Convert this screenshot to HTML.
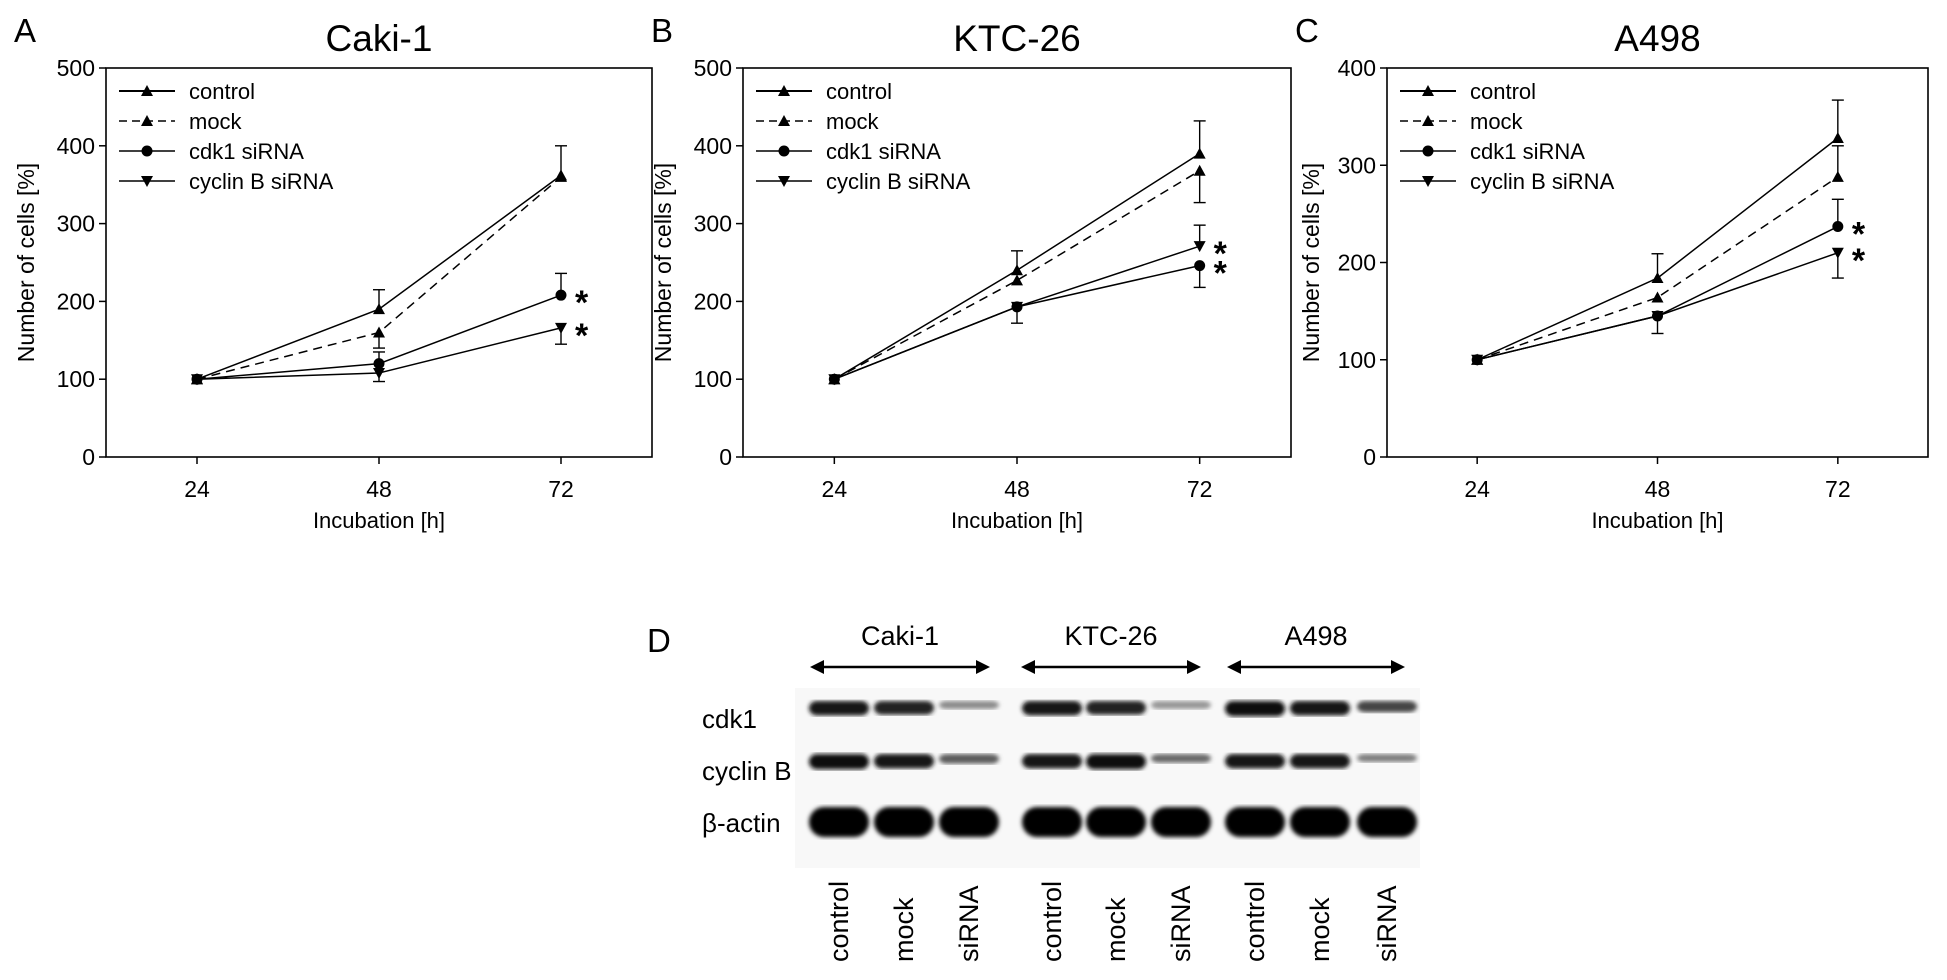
<!DOCTYPE html>
<html><head><meta charset="utf-8"><style>
html,body{margin:0;padding:0;background:#fff}
svg{display:block;font-family:"Liberation Sans",Arial,sans-serif}
</style></head><body>
<svg id="fig" width="1947" height="980" viewBox="0 0 1947 980">
<defs><filter id="blur"><feGaussianBlur stdDeviation="2"/></filter></defs>
</svg>
<script>
const NS='http://www.w3.org/2000/svg';
const svg=document.getElementById('fig');
// ---- data ----
const hours=[24,48,72];
const seriesNames=['control','mock','cdk1 siRNA','cyclin B siRNA'];
const panelTitles=['Caki-1','KTC-26','A498'];
const panelLetters=['A','B','C'];
const yMaxes=[500,500,400];
const cakiControl=[100,190,362], cakiMock=[100,160,360], cakiCdk1=[100,120,208], cakiCyclin=[100,108,166];
const ktcControl=[100,240,390], ktcMock=[100,227,368], ktcCdk1=[100,193,246], ktcCyclin=[100,193,271];
const a498Control=[100,184,328], a498Mock=[100,164,288], a498Cdk1=[100,145,237], a498Cyclin=[100,145,210];
// error bar ends (null = none)
const cakiErr=[[null,215,400],[null,140,null],[null,135,236],[null,97,145]];
const ktcErr=[[null,265,432],[null,null,327],[null,172,218],[null,null,298]];
const a498Err=[[null,209,367],[null,null,320],[null,127,265],[null,null,184]];
const blotGroups=['Caki-1','KTC-26','A498'];
const blotRows=['cdk1','cyclin B','β-actin'];
const laneLabels=['control','mock','siRNA'];
const cdk1Bands=[0.9,0.85,0.4,0.9,0.85,0.35,0.95,0.9,0.7];
const cyclinBands=[0.95,0.9,0.6,0.9,0.95,0.55,0.9,0.9,0.45];
const actinBands=[1,1,1,1,1,1,1,1,1];

function el(tag,attrs,parent){const e=document.createElementNS(NS,tag);for(const k in attrs)e.setAttribute(k,attrs[k]);(parent||svg).appendChild(e);return e;}
function txt(s,attrs,parent){const t=el('text',attrs,parent);t.textContent=s;return t;}

const panels=[
 {x0:106,x1:652,data:[cakiControl,cakiMock,cakiCdk1,cakiCyclin],err:cakiErr,name:'caki'},
 {x0:743,x1:1291,data:[ktcControl,ktcMock,ktcCdk1,ktcCyclin],err:ktcErr,name:'ktc26'},
 {x0:1387,x1:1928,data:[a498Control,a498Mock,a498Cdk1,a498Cyclin],err:a498Err,name:'a498'}];
const yTop=68,yBot=457;

panels.forEach((p,pi)=>{
 const g=el('g',{});
 
 
 const xs=h=>p.x0+(h-12)/72*(p.x1-p.x0);
 const ys=v=>yBot-v/yMaxes[pi]*(yBot-yTop);
 const letter=txt(panelLetters[pi],{x:p.x0-92,y:42,'font-size':33},g);
 
 const tt=txt(panelTitles[pi],{x:(p.x0+p.x1)/2,y:51,'font-size':37,'text-anchor':'middle'},g);
 
 const fr=el('rect',{x:p.x0,y:yTop,width:p.x1-p.x0,height:yBot-yTop,fill:'none',stroke:'#000','stroke-width':1.6},g);
 
 for(let v=0;v<=yMaxes[pi];v+=100){
  el('line',{x1:p.x0-7,x2:p.x0,y1:ys(v),y2:ys(v),stroke:'#000','stroke-width':1.5},g);
  const t=txt(String(v),{x:p.x0-11,y:ys(v)+8,'font-size':23,'text-anchor':'end'},g);
  
 }
 hours.forEach(h=>{
  el('line',{x1:xs(h),x2:xs(h),y1:yBot,y2:yBot+7,stroke:'#000','stroke-width':1.5},g);
  const t=txt(String(h),{x:xs(h),y:yBot+40,'font-size':23,'text-anchor':'middle'},g);
  
 });
 const xt=txt('Incubation [h]',{x:(p.x0+p.x1)/2,y:yBot+71,'font-size':22,'text-anchor':'middle'},g);
 
 const cy=(yTop+yBot)/2, cx=p.x0-(pi==2?68:72);
 const yt=txt('Number of cells  [%]',{x:cx,y:cy,'font-size':23,'text-anchor':'middle',transform:`rotate(-90 ${cx} ${cy})`},g);
 
 function marker(type,x,y,parent){
  if(type===2) return el('circle',{cx:x,cy:y,r:5.5,fill:'#000'},parent);
  if(type===3) return el('path',{d:`M${x-6},${y-5}L${x+6},${y-5}L${x},${y+6}Z`,fill:'#000'},parent);
  return el('path',{d:`M${x-6},${y+5}L${x+6},${y+5}L${x},${y-6}Z`,fill:'#000'},parent);
 }
 p.data.forEach((vals,si)=>{
  const sg=el('g',{},g);
  
  
  const d=vals.map((v,i)=>(i?'L':'M')+xs(hours[i])+','+ys(v)).join('');
  el('path',{d,fill:'none',stroke:'#000','stroke-width':1.5,'stroke-dasharray':si===1?'9,6':'none'},sg);
  p.err[si].forEach((e,i)=>{
   if(e==null)return;
   const x=xs(hours[i]);
   el('line',{x1:x,x2:x,y1:ys(vals[i]),y2:ys(e),stroke:'#000','stroke-width':1.4},sg);
   el('line',{x1:x-6,x2:x+6,y1:ys(e),y2:ys(e),stroke:'#000','stroke-width':1.4},sg);
  });
  vals.forEach((v,i)=>{
   const m=marker(si,xs(hours[i]),ys(v),sg);
   
  });
  if(si>=2){
   const a=txt('*',{x:xs(72)+14,y:ys(vals[2])+19,'font-size':34,'font-weight':'bold'},sg);
   
  }
 });
 const lg=el('g',{},g);
 
 seriesNames.forEach((n,i)=>{
  const y=91+i*30, lx0=p.x0+13, lx1=p.x0+69;
  const eg=el('g',{},lg);
  
  el('line',{x1:lx0,x2:lx1,y1:y,y2:y,stroke:'#000','stroke-width':i===0?2:1.4,'stroke-dasharray':i===1?'8,5':'none'},eg);
  marker(i,(lx0+lx1)/2,y,eg);
  txt(n,{x:p.x0+83,y:y+8,'font-size':22},eg);
 });
});

// ---- western blot ----
const bg=el('g',{});

const dl=txt('D',{x:647,y:652,'font-size':33},bg);

el('rect',{x:795,y:688,width:625,height:180,fill:'#f8f8f8'},bg);
const laneX=[839,904,969,1052,1116,1181,1255,1320,1387];
const groupArrows=[[810,990],[1021,1201],[1227,1405]];
blotGroups.forEach((n,i)=>{
 const [a,b]=groupArrows[i];
 const t=txt(n,{x:(a+b)/2,y:645,'font-size':27,'text-anchor':'middle'},bg);
 
 const ag=el('g',{},bg);
 
 el('line',{x1:a+8,x2:b-8,y1:667,y2:667,stroke:'#000','stroke-width':2.5},ag);
 el('path',{d:`M${a},667L${a+14},660L${a+14},674Z M${b},667L${b-14},660L${b-14},674Z`,fill:'#000'},ag);
});
const rowY=[709,762,822];
const rowBands=[cdk1Bands,cyclinBands,actinBands];
blotRows.forEach((n,r)=>{
 const t=txt(n,{x:702,y:[728,780,832][r],'font-size':26},bg);
 
 rowBands[r].forEach((v,i)=>{
  const h=r===2?30:16;
  const g=Math.round(255*(1-v)*0.9);
  const b=el('rect',{x:laneX[i]-30,y:rowY[r]-h/2,width:60,height:h*Math.max(0.5,v),rx:h/2,fill:`rgb(${g},${g},${g})`,filter:'url(#blur)'},bg);
  
 });
});
laneX.forEach((x,i)=>{
 const l=laneLabels[i%3];
 const t=txt(l,{x:x+9,y:962,'font-size':27,transform:`rotate(-90 ${x+9} 962)`},bg);
 
});
</script>
</body></html>
